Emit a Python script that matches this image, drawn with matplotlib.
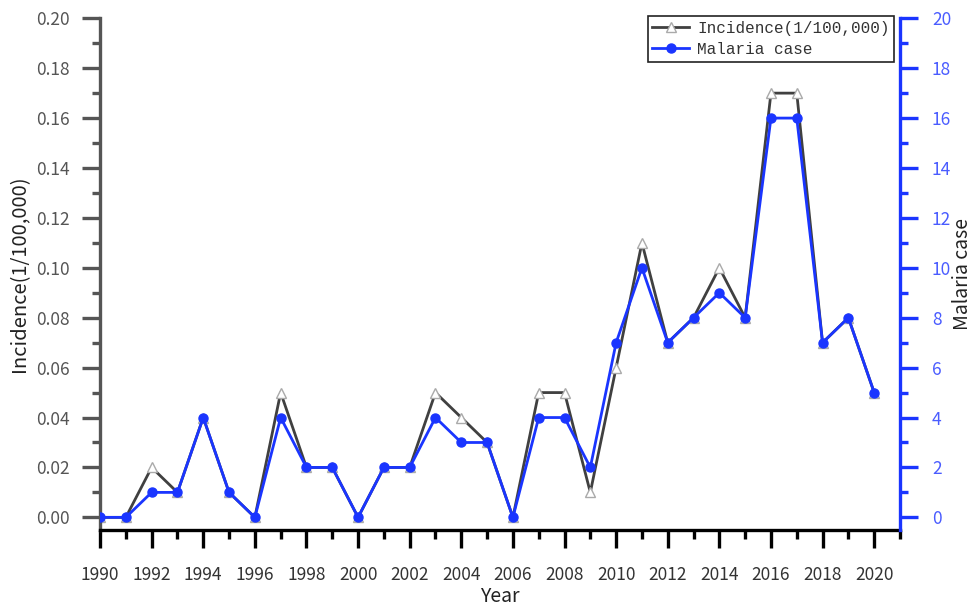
import matplotlib
matplotlib.use("Agg")
import matplotlib.pyplot as plt
from matplotlib.ticker import MultipleLocator

years = list(range(1990, 2021))
incidence = [0.00, 0.00, 0.02, 0.01, 0.04, 0.01, 0.00, 0.05, 0.02, 0.02,
             0.00, 0.02, 0.02, 0.05, 0.04, 0.03, 0.00, 0.05, 0.05, 0.01,
             0.06, 0.11, 0.07, 0.08, 0.10, 0.08, 0.17, 0.17, 0.07, 0.08, 0.05]
cases = [0, 0, 1, 1, 4, 1, 0, 4, 2, 2,
         0, 2, 2, 4, 3, 3, 0, 4, 4, 2,
         7, 10, 7, 8, 9, 8, 16, 16, 7, 8, 5]

plt.rcParams['font.family'] = ['Noto Sans CJK SC', 'DejaVu Sans']

fig = plt.figure(figsize=(9.74, 6.09), dpi=100)
ax = fig.add_axes([0.1027, 0.130, 0.8213, 0.840])
ax2 = ax.twinx()

grey = '#555555'
blue = '#1a35ff'
lblue = '#4a5cff'

l1, = ax.plot(years, incidence, color='#404040', lw=2, marker='^', ms=7.5,
              mfc='white', mec='#aaaaaa', mew=1, label='Incidence(1/100,000)')
l2, = ax2.plot(years, cases, color=blue, lw=2, marker='o', ms=6.5,
               mfc=blue, mec=blue, label='Malaria case')

ax.set_xlim(1990, 2021)
ax.set_ylim(-0.005, 0.20)
ax2.set_ylim(-0.5, 20)

ax.xaxis.set_major_locator(MultipleLocator(2))
ax.xaxis.set_minor_locator(MultipleLocator(1))
ax.yaxis.set_minor_locator(MultipleLocator(0.01))
ax2.yaxis.set_minor_locator(MultipleLocator(1))
ax.set_yticks([i * 0.02 for i in range(11)])
ax.set_yticklabels(['%.2f' % (i * 0.02) for i in range(11)])
ax2.set_yticks(range(0, 21, 2))

for a in (ax, ax2):
    a.spines['top'].set_visible(False)
ax.spines['right'].set_visible(False)
ax.spines['left'].set_color(grey)
ax.spines['left'].set_linewidth(2.4)
ax.spines['bottom'].set_color('black')
ax.spines['bottom'].set_linewidth(2.4)
ax2.spines['left'].set_visible(False)
ax2.spines['bottom'].set_visible(False)
ax2.spines['right'].set_color(blue)
ax2.spines['right'].set_linewidth(2.4)

ax.tick_params(axis='x', which='major', length=13, width=2.4, color='black',
               labelsize=12.5, labelcolor='#333333', pad=13)
ax.tick_params(axis='x', which='minor', length=6.5, width=2.4, color='black')
ax.tick_params(axis='y', which='major', length=13, width=2.4, color=grey,
               labelsize=12.5, labelcolor=grey, pad=9)
ax.tick_params(axis='y', which='minor', length=6, width=2.4, color=grey)
ax2.tick_params(axis='y', which='major', length=13, width=2.4, color=blue,
                labelsize=12.5, labelcolor=lblue, pad=10)
ax2.tick_params(axis='y', which='minor', length=6, width=2.4, color=blue)

ax.set_xlabel('Year', fontsize=14, color='#222222')
ax.xaxis.set_label_coords(0.5, -0.11)
ax.set_ylabel('Incidence(1/100,000)', fontsize=14.5, color='#222222')
ax.yaxis.set_label_coords(-0.087, 0.5)
ax2.set_ylabel('Malaria case', fontsize=14, color='#222222')
ax2.yaxis.set_label_coords(1.065, 0.5)

leg = ax2.legend(handles=[l1, l2], loc='upper right', bbox_to_anchor=(0.993, 1.005),
                 prop={'family': 'Liberation Mono', 'size': 11.5},
                 frameon=True, fancybox=False, framealpha=1, edgecolor='#222222',
                 borderpad=0.3, labelspacing=0.4, handlelength=2.3, handletextpad=0.5,
                 borderaxespad=0)
leg.get_frame().set_linewidth(1.2)
for t in leg.get_texts():
    t.set_color('#333333')

# blue series drawn above the grey one
ax.set_zorder(1)
ax2.set_zorder(2)
ax2.patch.set_visible(False)

fig.savefig('out.png', dpi=100)
